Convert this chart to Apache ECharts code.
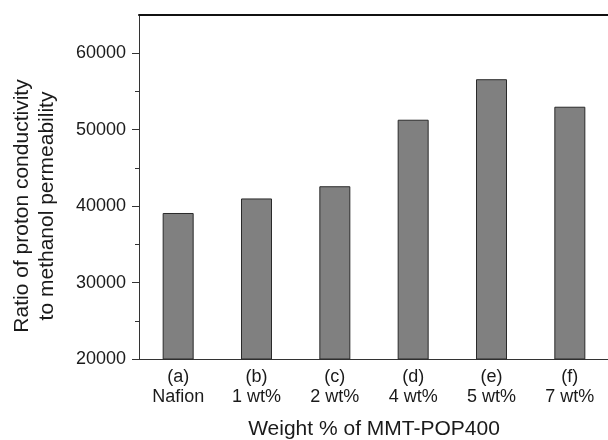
<!DOCTYPE html>
<html>
<head>
    <meta charset="utf-8">
    <title>ECharts</title>
    <script src="https://cdn.jsdelivr.net/npm/echarts@6/dist/echarts.min.js"></script>
    <style>
        body { margin: 0; background: #fff; }
    </style>
</head>
<body>
<div id="main" style="width: 608px;height:440px;"></div>

<script type="text/javascript">
    // data
    var categories = ['(a)\nNafion', '(b)\n1 wt%', '(c)\n2 wt%', '(d)\n4 wt%', '(e)\n5 wt%', '(f)\n7 wt%'];
    var ratioValues = [39100, 41000, 42600, 51300, 56600, 53000];
    var majorTicks = [20000, 30000, 40000, 50000, 60000];
    var minorTicks = [25000, 35000, 45000, 55000];

    var font = 'Liberation Sans, Arial, sans-serif';
    var ink = '#1a1a1a';

    var myChart = echarts.init(document.getElementById('main'));

    var option = {
        animation: false,
        backgroundColor: '#fff',
        grid: { left: 139, top: 15, bottom: 81, width: 470, outerBoundsMode: 'none', containLabel: false },
        xAxis: [{
            type: 'category',
            data: categories,
            position: 'bottom',
            name: 'Weight % of MMT-POP400',
            nameLocation: 'middle',
            nameGap: 60,
            nameTextStyle: { fontFamily: font, fontSize: 21, color: ink },
            axisLine: { lineStyle: { color: '#333', width: 1 } },
            axisTick: { inside: true, length: 4, lineStyle: { color: '#333' } },
            axisLabel: { fontFamily: font, fontSize: 18, lineHeight: 20, color: ink, margin: 8 }
        }, {
            // top frame line
            type: 'category',
            data: categories,
            position: 'top',
            axisLine: { lineStyle: { color: '#111', width: 2 } },
            axisTick: { show: false },
            axisLabel: { show: false }
        }],
        yAxis: [{
            type: 'value',
            min: 20000,
            max: 65000,
            name: 'Ratio of proton conductivity\nto methanol permeability',
            nameLocation: 'middle',
            nameGap: 79,
            nameTextStyle: { fontFamily: font, fontSize: 21, lineHeight: 25, color: ink, padding: [0, 38, 0, 0] },
            splitLine: { show: false },
            axisLine: { show: true, lineStyle: { color: '#333', width: 1 } },
            axisTick: { show: true, length: 7, customValues: majorTicks, lineStyle: { color: '#333' } },
            axisLabel: {
                fontFamily: font, fontSize: 18, color: ink, margin: 13, customValues: majorTicks,
                formatter: function (v) { return String(v); }
            }
        }, {
            // minor ticks
            type: 'value',
            position: 'left',
            min: 20000,
            max: 65000,
            splitLine: { show: false },
            axisLine: { show: false },
            axisTick: { show: true, length: 4, customValues: minorTicks, lineStyle: { color: '#333' } },
            axisLabel: { show: false }
        }],
        series: [{
            type: 'bar',
            data: ratioValues,
            barWidth: 31,
            itemStyle: { color: '#808080', borderColor: '#2a2a2a', borderWidth: 1 }
        }]
    };

    myChart.setOption(option);
</script>
</body>
</html>
